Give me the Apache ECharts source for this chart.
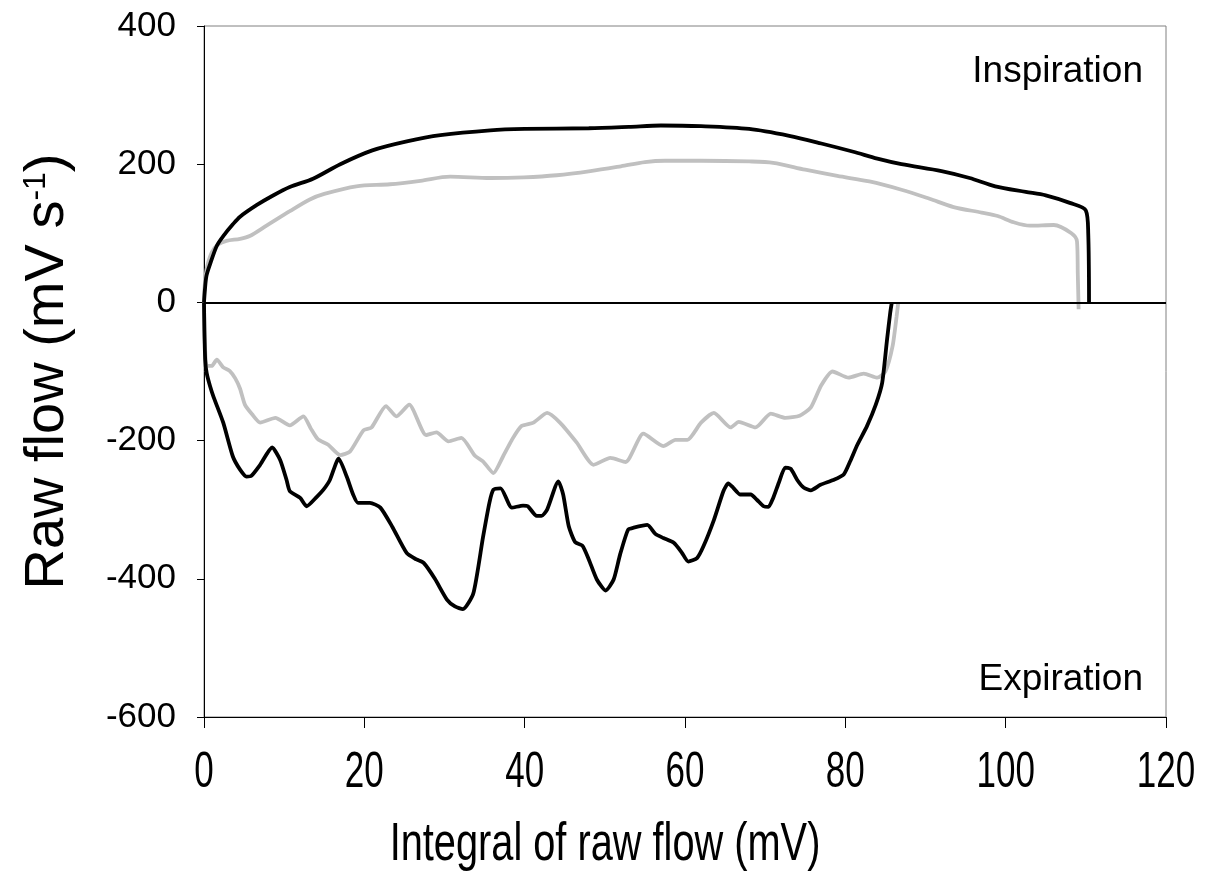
<!DOCTYPE html>
<html>
<head>
<meta charset="utf-8">
<script src="https://cdn.jsdelivr.net/npm/echarts@6/dist/echarts.min.js"></script>
<style>
  html, body { margin: 0; padding: 0; background: #fff; }
  #chart { width: 1208px; height: 872px; }
</style>
</head>
<body>
<div id="chart"></div>
<script>
// axis ticks
var xTicks = [0, 20, 40, 60, 80, 100, 120];
var yTicks = [-600, -400, -200, 0, 200, 400];

// [integral of raw flow (mV), raw flow (mV s-1)]
var blackInsp = [
  [0, 0], [0.12, 19], [0.3, 38], [0.75, 55], [1.6, 82], [2.4, 96], [3.6, 113], [4.5, 124],
  [6.6, 141], [8.5, 154], [10.7, 167], [13.6, 179], [17, 200], [21, 220], [25.3, 233],
  [29.5, 242], [35.7, 249], [40, 251], [48, 252], [53, 254], [57, 256], [62, 255], [68, 251],
  [73, 241], [77, 230], [81, 218], [84, 208], [87, 200], [92, 190], [95.5, 180], [98.7, 168],
  [102.5, 160], [105, 155], [108, 144], [110, 133], [110.3, 100], [110.4, 0]
];
var greyInsp = [
  [0, 0], [0.05, 19], [0.33, 48], [0.96, 72], [1.8, 84], [2.8, 89], [4.5, 92], [5.7, 96],
  [7.8, 111], [10.7, 132], [13.2, 149], [15, 157], [19, 168], [23.2, 171], [27, 176],
  [30.7, 182], [35.7, 180], [39.9, 181], [44, 184], [48.2, 190], [52, 197], [55, 203],
  [57.5, 205], [62, 205], [68, 204], [71, 202], [75, 192], [79, 183], [83, 175], [87, 163],
  [90.5, 150], [93.5, 138], [97, 130], [99, 125], [101, 116], [103, 111], [106, 112],
  [108.2, 100], [108.9, 88], [109, 40], [109.1, -10]
];
var blackExp = [
  [0, 0], [0.05, -40], [0.15, -83], [0.33, -102], [0.75, -121], [1.2, -137], [2.4, -174],
  [3.6, -223], [4.5, -242], [5.3, -252], [5.9, -251], [7, -235], [8.5, -210], [9.5, -228],
  [10.3, -257], [10.7, -273], [12, -283], [12.8, -295], [14.1, -281], [14.9, -271],
  [15.7, -257], [16.8, -226], [17.8, -252], [18.6, -278], [19.2, -290], [20.7, -290],
  [22, -297], [23.5, -325], [25.3, -363], [26.5, -372], [27.4, -377], [28.8, -400],
  [30.3, -430], [31.3, -440], [32.3, -444], [33.6, -421], [34.8, -340], [35.6, -290],
  [36.1, -271], [37, -269], [38.4, -297], [39.8, -294], [40.4, -295], [41.5, -309],
  [42.1, -309], [42.8, -300], [44.2, -259], [44.8, -278], [45.5, -324], [46.3, -347],
  [47.2, -352], [48, -372], [49, -401], [50.1, -417], [51.1, -401], [51.9, -365],
  [52.9, -329], [53.6, -326], [55.3, -322], [56.3, -335], [57.3, -341], [58.6, -348],
  [59.6, -362], [60.4, -375], [61.5, -370], [62.3, -353], [63.6, -315], [64.8, -273],
  [65.4, -262], [66, -268], [66.9, -278], [68.2, -278], [69, -286], [69.8, -295],
  [70.4, -296], [71, -283], [71.7, -261], [72.5, -239], [73.2, -241], [74, -257],
  [74.8, -268], [75.7, -272], [76.9, -264], [78.5, -257], [79.8, -249], [80.6, -230],
  [81.5, -206], [82.7, -179], [83.8, -148], [84.6, -116], [85.2, -54], [85.6, -15], [85.8, 0]
];
var greyExp = [
  [0, 0], [0.05, -40], [0.15, -70], [0.33, -92], [0.96, -92], [1.6, -83], [2.4, -94],
  [3.2, -99], [3.9, -110], [4.5, -125], [5.1, -148], [6, -162], [7, -174], [8.9, -167],
  [10.7, -178], [12.4, -165], [13.3, -182], [14.2, -198], [15.5, -206], [17, -221],
  [18.2, -216], [19.9, -185], [20.9, -181], [22.7, -150], [24, -165], [25.6, -148],
  [27.7, -192], [29, -188], [30.5, -201], [32.1, -196], [33.8, -222], [34.8, -230],
  [36.1, -247], [37.3, -223], [38.4, -199], [39.6, -179], [41.1, -174], [42.8, -160],
  [44.4, -174], [46.5, -203], [48.6, -235], [50.7, -225], [52.6, -231], [54.8, -190],
  [57.3, -208], [58.8, -199], [60.3, -199], [62, -174], [63.6, -160], [65.7, -181],
  [66.7, -173], [68.8, -181], [70.7, -161], [72.5, -167], [74.3, -164], [75.7, -152],
  [77, -120], [78.4, -100], [80.4, -109], [82.3, -103], [84, -109], [85, -100],
  [85.9, -63], [86.4, -20], [86.6, 0]
];

var black = '#000000';
var grey = '#c0c0c0';
var font = 'Liberation Sans, Arial, sans-serif';

var chart = echarts.init(document.getElementById('chart'), null, { renderer: 'canvas' });

function curve(data, color, smooth) {
  return {
    type: 'line',
    data: data,
    showSymbol: false,
    smooth: smooth,
    lineStyle: { color: color, width: 3.8 },
    z: color === black ? 3 : 2
  };
}

var series = [
  curve(greyInsp, grey, 0.3),
  curve(greyExp, grey, 0.2),
  curve(blackInsp, black, 0.3),
  curve(blackExp, black, 0.2)
];
// zero line
series[0].markLine = {
  silent: true,
  symbol: 'none',
  label: { show: false },
  lineStyle: { color: black, width: 2, type: 'solid' },
  data: [{ yAxis: 0 }]
};

chart.setOption({
  animation: false,
  backgroundColor: '#fff',
  grid: {
    left: 204, right: 42, top: 26, bottom: 155,
    show: true, borderColor: '#808080', borderWidth: 1
  },
  xAxis: {
    type: 'value',
    min: xTicks[0], max: xTicks[xTicks.length - 1], interval: 20,
    splitLine: { show: false },
    axisLine: { onZero: false, lineStyle: { color: black, width: 1 } },
    axisTick: { show: true, inside: false, length: 11, lineStyle: { color: black } },
    // labels are drawn below, horizontally condensed like the original
    axisLabel: { show: false }
  },
  yAxis: {
    type: 'value',
    min: yTicks[0], max: yTicks[yTicks.length - 1], interval: 200,
    splitLine: { show: false },
    axisLine: { show: true, lineStyle: { color: black, width: 1 } },
    axisTick: { show: true, inside: false, length: 7, lineStyle: { color: black } },
    axisLabel: { color: black, fontFamily: font, fontSize: 35, margin: 28 },
    name: 'Raw flow (mV s{sup|-1})',
    nameLocation: 'middle',
    nameGap: 128,
    nameTextStyle: {
      color: black, fontFamily: font, fontSize: 56,
      rich: { sup: { fontFamily: font, fontSize: 32, verticalAlign: 'top', color: black } }
    }
  },
  series: series
});

// condensed x tick labels + axis title, placed through the axis scale
var labelY = 773;
var graphics = xTicks.map(function (v) {
  return {
    type: 'text',
    x: chart.convertToPixel({ xAxisIndex: 0 }, v),
    y: labelY,
    scaleX: 0.7,
    style: { text: String(v), font: '50px ' + font, fill: black, align: 'center', verticalAlign: 'middle' }
  };
});
graphics.push({
  type: 'text', x: 605, y: 845, scaleX: 0.75,
  style: { text: 'Integral of raw flow (mV)', font: '53px ' + font, fill: black, align: 'center', verticalAlign: 'middle' }
});
graphics.push({
  type: 'text', right: 65, top: 53,
  style: { text: 'Inspiration', font: '37px ' + font, fill: black }
});
graphics.push({
  type: 'text', right: 65, top: 661,
  style: { text: 'Expiration', font: '37px ' + font, fill: black }
});
chart.setOption({ graphic: graphics });
</script>
</body>
</html>
